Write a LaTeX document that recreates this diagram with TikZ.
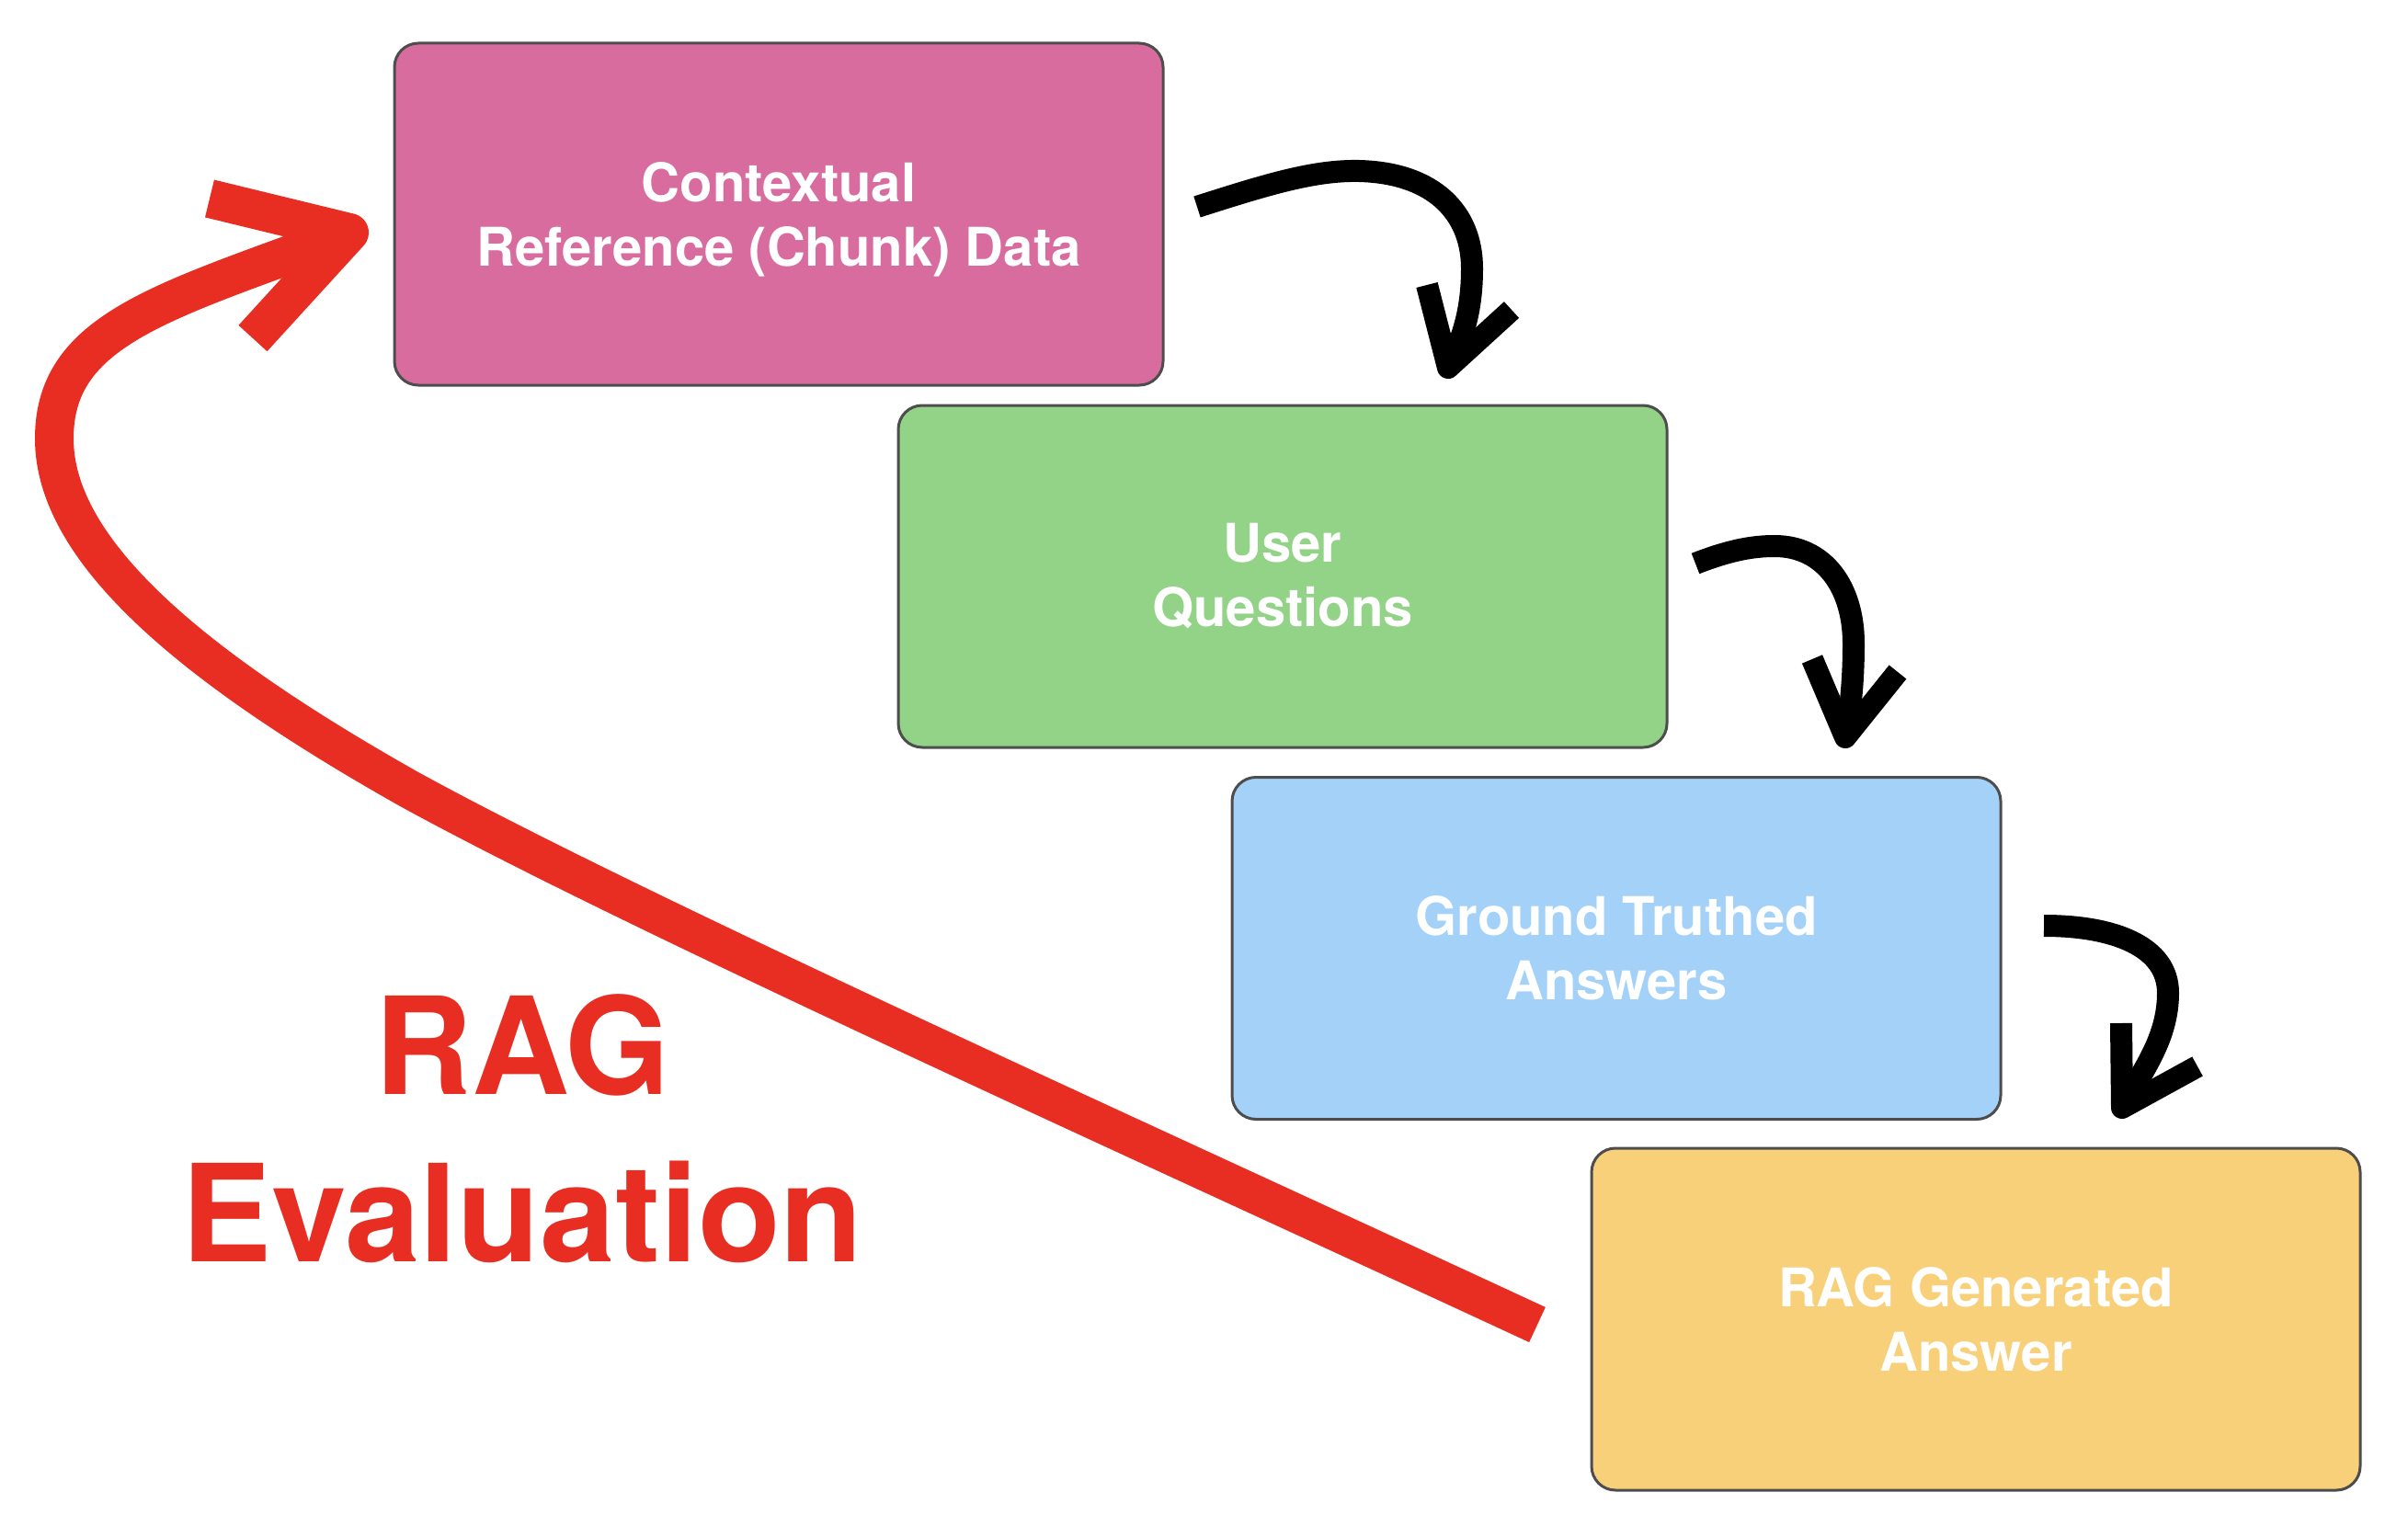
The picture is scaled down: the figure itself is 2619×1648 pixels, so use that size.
\documentclass[tikz,border=0pt]{standalone}
\usepackage{fontspec}
\setmainfont{TeX Gyre Heros}
\definecolor{pinkbox}{HTML}{D96C9E}
\definecolor{greenbox}{HTML}{92D388}
\definecolor{bluebox}{HTML}{A3D1F8}
\definecolor{yellowbox}{HTML}{F8D07A}
\definecolor{boxline}{HTML}{4D4D4D}
\definecolor{ragred}{HTML}{E82E22}
\begin{document}
\begin{tikzpicture}[x=1pt,y=-1pt,
  box/.style={draw=boxline, line width=3pt, rounded corners=26pt,
    minimum width=836pt, minimum height=372pt, inner sep=0pt,
    align=center, text=white, font=\fontsize{58}{70}\selectfont\bfseries},
  blk/.style={line width=24pt, draw=black, line cap=butt, line join=round},
  redl/.style={line width=42pt, draw=ragred, line cap=butt, line join=round},
  title/.style={align=center, text=ragred, inner sep=0pt,
    font=\fontsize{147}{182}\selectfont\bfseries}]
\useasboundingbox[fill=white] (0,0) rectangle (2619,1648);

% boxes
\node[box, fill=pinkbox]   (b1) at (847,233)    {Contextual\\\raisebox{0pt}[\height][0pt]{Reference (Chunk) Data}};
\node[box, fill=greenbox]  (b2) at (1395,627)   {User\\Questions};
\node[box, fill=bluebox]   (b3) at (1758,1031.5){Ground Truthed\\Answers};
\node[box, fill=yellowbox] (b4) at (2149,1435)  {RAG Generated\\Answer};

% title
\node[title] (ttl) at (568,1228) {RAG\\Evaluation};

% black arrow 1 : b1 -> b2
\coordinate (a1s) at (1302,225);
\coordinate (a1t) at (1575,400);
\coordinate (a1l) at (1552,310);
\coordinate (a1r) at (1644,337);
\draw[blk] (a1s) .. controls (1380,200) and (1430,185) .. (1478,186)
  .. controls (1560,188) and (1601,232) .. (1601,292)
  .. controls (1601,340) and (1590,370) .. (a1t);
\draw[blk] (a1l) -- (a1t) -- (a1r);

% black arrow 2 : b2 -> b3
\coordinate (a2s) at (1844,613);
\coordinate (a2t) at (2007,802);
\coordinate (a2l) at (1971,717);
\coordinate (a2r) at (2064,731);
\draw[blk] (a2s) .. controls (1880,599) and (1905,594) .. (1930,594)
  .. controls (1985,594) and (2016,640) .. (2016,700)
  .. controls (2016,745) and (2012,775) .. (a2t);
\draw[blk] (a2l) -- (a2t) -- (a2r);

% black arrow 3 : b3 -> b4
\coordinate (a3s) at (2223,1007);
\coordinate (a3t) at (2308,1205);
\coordinate (a3l) at (2307,1113);
\coordinate (a3r) at (2390,1160);
\draw[blk] (a3s) .. controls (2300,1007) and (2358,1030) .. (2358,1080)
  .. controls (2358,1130) and (2330,1165) .. (a3t);
\draw[blk] (a3l) -- (a3t) -- (a3r);

% red arrow : b4 -> b1
\coordinate (rs) at (1672,1441);
\coordinate (rm) at (446,859);
\coordinate (rw) at (59,477);
\coordinate (rt) at (380,253);
\coordinate (ru) at (228,216);
\coordinate (rl) at (275,368);
\draw[redl] (rs) .. controls (1250,1245) and (696,996) .. (rm)
  .. controls (210,726) and (59,600) .. (rw)
  .. controls (59,357) and (180,328) .. (rt);
\draw[redl] (ru) -- (rt) -- (rl);
\end{tikzpicture}
\end{document}
